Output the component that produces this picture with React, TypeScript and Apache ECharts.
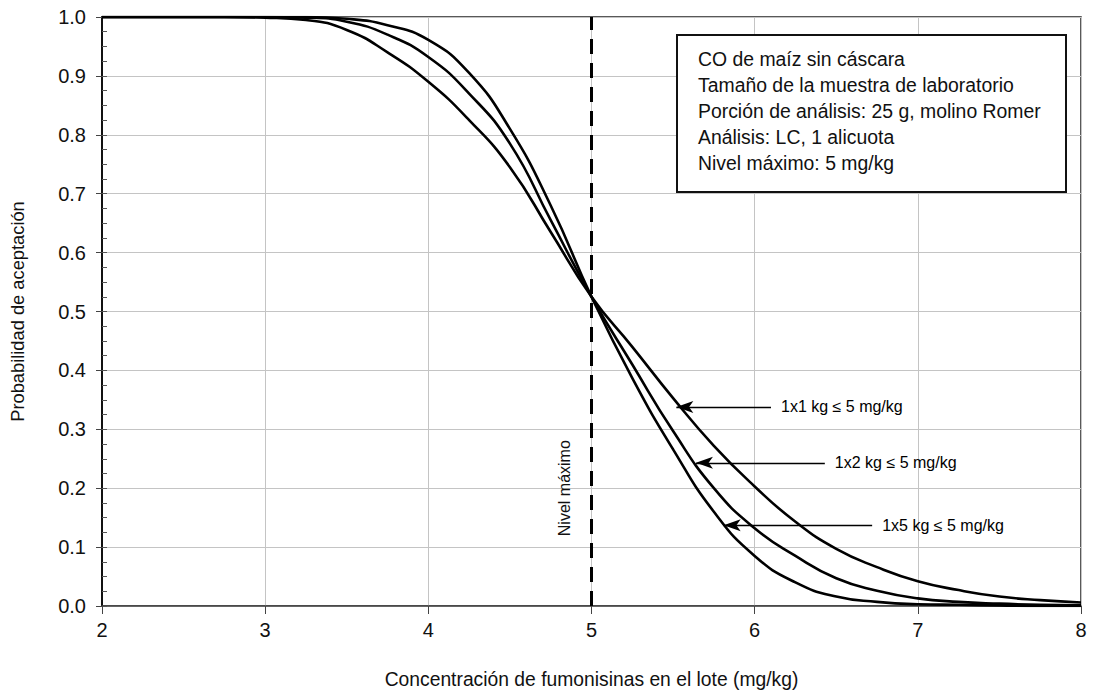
import React, { useEffect, useRef } from "react";
import * as echarts from "echarts";

const conc = [2, 2.25, 2.5, 2.75, 3, 3.25, 3.5, 3.75, 4, 4.25, 4.5, 4.75, 5, 5.25, 5.5, 5.75, 6, 6.25, 6.5, 6.75, 7, 7.25, 7.5, 7.75, 8];
const p1x1 = [1, 1, 1, 1, 0.999, 0.995, 0.978, 0.94, 0.89, 0.825, 0.745, 0.635, 0.525, 0.44, 0.353, 0.272, 0.203, 0.143, 0.097, 0.066, 0.042, 0.027, 0.016, 0.01, 0.006];
const p1x2 = [1, 1, 1, 1, 1, 0.999, 0.992, 0.97, 0.932, 0.87, 0.785, 0.655, 0.525, 0.41, 0.297, 0.2, 0.132, 0.085, 0.047, 0.026, 0.013, 0.007, 0.004, 0.002, 0.001];
const p1x5 = [1, 1, 1, 1, 1, 1, 0.997, 0.986, 0.961, 0.905, 0.81, 0.68, 0.525, 0.387, 0.266, 0.16, 0.085, 0.04, 0.016, 0.007, 0.003, 0.002, 0.001, 0, 0];

const seriesNames = ["1x1 kg ≤ 5 mg/kg", "1x2 kg ≤ 5 mg/kg", "1x5 kg ≤ 5 mg/kg"];
const arrowTipX = [5.52, 5.64, 5.81];
const arrowTailX = [6.1, 6.43, 6.72];
const arrowY = [0.338, 0.243, 0.137];

const maxLevel = 5;
const infoLines = [
  "CO de maíz sin cáscara",
  "Tamaño de la muestra de laboratorio",
  "Porción de análisis: 25 g, molino Romer",
  "Análisis: LC, 1 alicuota",
  "Nivel máximo: 5 mg/kg",
];
const xTitle = "Concentración de fumonisinas en el lote (mg/kg)";
const yTitle = "Probabilidad de aceptación";
const maxLabel = "Nivel máximo";

const FONT = "'Liberation Sans', Arial, sans-serif";

export default function App() {
  const ref = useRef<HTMLDivElement>(null);
  useEffect(() => {
    if (!ref.current) return;
    const chart = echarts.init(ref.current, null, { renderer: "svg" });
    const allSeries = [p1x1, p1x2, p1x5];
    const series: any[] = allSeries.map((vals, i) => ({
      type: "line",
      name: seriesNames[i],
      data: conc.map((c, j) => [c, vals[j]]),
      smooth: 0.5,
      symbol: "none",
      lineStyle: { color: "#000", width: 2.6 },
      z: 5,
      markLine: {
        silent: true,
        symbol: ["arrow", "none"],
        symbolSize: [9, 17],
        lineStyle: { color: "#000", width: 1.3, type: "solid" },
        label: {
          show: true,
          position: "end",
          distance: 10,
          formatter: seriesNames[i],
          color: "#000",
          fontSize: 16,
          fontFamily: FONT,
        },
        data: [[{ coord: [arrowTipX[i], arrowY[i]] }, { coord: [arrowTailX[i], arrowY[i]] }]],
      },
    }));
    series.push({
      type: "line",
      data: [],
      markLine: {
        silent: true,
        symbol: ["none", "none"],
        label: { show: false },
        lineStyle: { color: "#000", width: 3, type: [15, 9] },
        data: [{ xAxis: maxLevel }],
      },
    });
    chart.setOption({
      animation: false,
      backgroundColor: "#fff",
      textStyle: { fontFamily: FONT },
      grid: {
        left: 102,
        right: 12,
        top: 17,
        bottom: 94,
        show: true,
        borderColor: "#222",
        borderWidth: 1.5,
      },
      xAxis: [
        {
          type: "value",
          min: 2,
          max: 8,
          interval: 1,
          name: xTitle,
          nameLocation: "middle",
          nameGap: 64,
          nameTextStyle: { fontSize: 19.3, color: "#111", fontFamily: FONT },
          axisLine: { show: true, lineStyle: { color: "#444", width: 1.5 } },
          axisTick: { show: true, length: 8, lineStyle: { color: "#444" } },
          axisLabel: { fontSize: 20, color: "#111", margin: 14, fontFamily: FONT },
          splitLine: { show: true, lineStyle: { color: "#c4c4c4", width: 1 } },
        },
      ],
      yAxis: [
        {
          type: "value",
          min: 0,
          max: 1,
          interval: 0.1,
          name: yTitle,
          nameLocation: "middle",
          nameRotate: 90,
          nameGap: 76,
          nameTextStyle: { fontSize: 18.3, color: "#111", fontFamily: FONT },
          axisLine: { show: true, lineStyle: { color: "#111", width: 2 } },
          axisTick: { show: true, length: 6, lineStyle: { color: "#444" } },
          axisLabel: {
            fontSize: 20,
            color: "#111",
            margin: 16,
            fontFamily: FONT,
            formatter: (v: number) => v.toFixed(1),
          },
          splitLine: { show: true, lineStyle: { color: "#c4c4c4", width: 1 } },
        },
        {
          type: "value",
          min: 0,
          max: 1,
          interval: 0.025,
          position: "left",
          axisLine: { show: false },
          axisTick: { show: true, inside: true, length: 5, lineStyle: { color: "#555" } },
          axisLabel: { show: false },
          splitLine: { show: false },
        },
      ],
      series,
    });

    const p = chart.convertToPixel({ xAxisIndex: 0, yAxisIndex: 0 }, [maxLevel, 0.2]) as number[];
    chart.setOption({
      graphic: [
        {
          type: "text",
          x: p[0] - 27,
          y: p[1],
          rotation: Math.PI / 2,
          style: {
            text: maxLabel,
            fontSize: 16,
            fontFamily: FONT,
            fill: "#111",
            align: "center",
            verticalAlign: "middle",
          },
          z: 20,
        },
        {
          type: "rect",
          shape: { x: 677, y: 35, width: 389, height: 157 },
          style: { fill: "#fff", stroke: "#111", lineWidth: 2 },
          z: 20,
        },
        {
          type: "text",
          x: 698,
          y: 46,
          style: {
            text: infoLines.join("\n"),
            fontSize: 19.4,
            lineHeight: 26,
            fontFamily: FONT,
            fill: "#111",
            align: "left",
            verticalAlign: "top",
          },
          z: 21,
        },
      ],
    });
    return () => chart.dispose();
  }, []);
  return (
    <div
      ref={ref}
      style={{ position: "fixed", left: 0, top: 0, width: 1093, height: 700, background: "#fff" }}
    />
  );
}
